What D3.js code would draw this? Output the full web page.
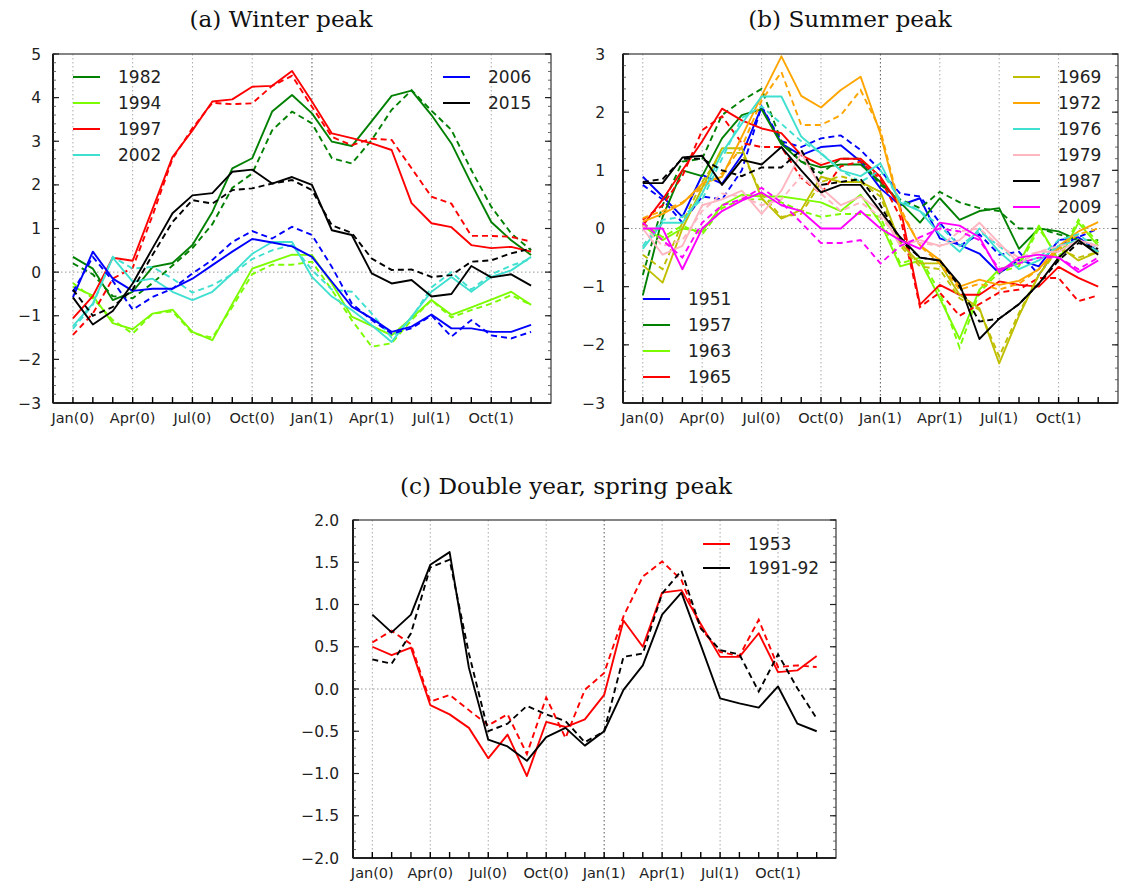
<!DOCTYPE html>
<html><head><meta charset="utf-8">
<script src="https://cdn.jsdelivr.net/npm/d3@7"></script>
<style>body{margin:0;background:#fff}</style>
</head><body>
<svg id="chart" width="1121" height="889"></svg>
<script>
// ---------- shared axis data ----------
const monthTickPos = [0, 3, 6, 9, 12, 15, 18, 21];
const monthTickLabels = ["Jan(0)", "Apr(0)", "Jul(0)", "Oct(0)", "Jan(1)", "Apr(1)", "Jul(1)", "Oct(1)"];
const months = [0,1,2,3,4,5,6,7,8,9,10,11,12,13,14,15,16,17,18,19,20,21,22,23];

// ---------- (a) Winter peak ----------
const yTicksA = [-3, -2, -1, 0, 1, 2, 3, 4, 5];
const a1982 = [0.35, 0.08, -0.64, -0.45, 0.12, 0.21, 0.62, 1.38, 2.38, 2.61, 3.68, 4.06, 3.64, 2.99, 2.89, 3.46, 4.04, 4.16, 3.6, 2.95, 2.03, 1.15, 0.73, 0.39];
const a1982d = [0.2, -0.05, -0.55, -0.6, -0.25, 0.15, 0.55, 1.1, 1.93, 2.26, 3.25, 3.68, 3.41, 2.61, 2.49, 3.03, 3.72, 4.17, 3.7, 3.26, 2.34, 1.5, 0.89, 0.5];
const a1994 = [-0.33, -0.54, -1.17, -1.31, -0.95, -0.86, -1.37, -1.56, -0.73, 0.08, 0.24, 0.4, 0.39, -0.26, -1.02, -1.23, -1.45, -1.05, -0.64, -0.98, -0.81, -0.63, -0.45, -0.75];
const a1994d = [-0.25, -0.6, -1.1, -1.41, -0.95, -0.9, -1.4, -1.5, -0.8, -0.05, 0.17, 0.17, 0.24, -0.41, -1.1, -1.71, -1.63, -1.1, -0.64, -1.04, -0.87, -0.72, -0.53, -0.75];
const a1997 = [-1.06, -0.55, 0.33, 0.26, 1.45, 2.64, 3.25, 3.91, 3.96, 4.25, 4.27, 4.61, 3.91, 3.18, 3.07, 2.95, 2.8, 1.58, 1.12, 1.03, 0.62, 0.55, 0.58, 0.47];
const a1997d = [-1.44, -0.95, -0.15, 0.1, 1.3, 2.6, 3.3, 3.88, 3.85, 3.87, 4.27, 4.5, 3.79, 3.1, 2.91, 3.06, 3.03, 2.38, 1.73, 1.57, 0.83, 0.83, 0.81, 0.7];
const a2002 = [-1.24, -0.72, 0.33, -0.22, -0.15, -0.45, -0.64, -0.45, -0.03, 0.42, 0.69, 0.69, -0.11, -0.56, -0.87, -1.22, -1.6, -1.02, -0.45, -0.11, -0.45, -0.11, 0.04, 0.35];
const a2002d = [-1.3, -0.75, 0.35, 0.08, 0.12, -0.15, -0.47, -0.3, -0.05, 0.3, 0.5, 0.62, 0.05, -0.4, -0.45, -0.95, -1.5, -1.05, -0.35, 0.0, -0.4, -0.05, 0.15, 0.3];
const a2006 = [-0.58, 0.47, -0.15, -0.43, -0.38, -0.38, -0.15, 0.16, 0.47, 0.76, 0.68, 0.59, 0.35, -0.22, -0.79, -1.06, -1.37, -1.25, -0.97, -1.29, -1.29, -1.37, -1.37, -1.21];
const a2006d = [-0.45, 0.35, -0.2, -0.86, -0.57, -0.38, -0.03, 0.28, 0.69, 0.94, 0.77, 1.04, 0.85, 0.12, -0.72, -1.1, -1.41, -1.29, -0.99, -1.48, -1.1, -1.45, -1.52, -1.37];
const a2015 = [-0.58, -1.2, -0.89, -0.26, 0.55, 1.35, 1.76, 1.81, 2.3, 2.35, 2.03, 2.18, 2.0, 0.96, 0.85, -0.03, -0.26, -0.18, -0.56, -0.5, 0.14, -0.12, -0.05, -0.31];
const a2015d = [-0.4, -1.0, -0.8, -0.4, 0.4, 1.15, 1.65, 1.57, 1.88, 1.92, 2.03, 2.11, 1.88, 1.07, 0.9, 0.31, 0.05, 0.06, -0.11, -0.07, 0.24, 0.27, 0.43, 0.54];

// ---------- (b) Summer peak ----------
const yTicksB = [-3, -2, -1, 0, 1, 2, 3];
const b1951 = [0.89, 0.55, 0.2, 0.92, 0.77, 1.26, 2.09, 1.46, 1.26, 1.4, 1.43, 1.15, 0.69, 0.4, 0.52, -0.17, -0.28, -0.43, -0.77, -0.54, -0.65, -0.2, -0.15, -0.4];
const b1951d = [0.75, 0.5, 0.1, 0.55, 0.5, 1.0, 2.1, 1.5, 1.4, 1.55, 1.6, 1.35, 1.0, 0.6, 0.55, 0.1, -0.3, -0.1, -0.45, -0.4, -0.8, -0.3, -0.15, 0.0];
const b1957 = [-1.15, 0.2, 1.0, 0.9, 1.55, 1.95, 2.05, 1.45, 1.15, 1.05, 1.1, 1.1, 0.8, 0.45, 0.1, 0.52, 0.15, 0.3, 0.35, -0.35, 0.0, -0.05, -0.2, -0.4];
const b1957d = [-0.8, 0.4, 1.15, 1.2, 1.95, 2.2, 2.4, 1.5, 1.15, 0.95, 1.2, 1.2, 0.75, 0.5, 0.35, 0.63, 0.45, 0.35, 0.3, 0.0, 0.0, -0.1, -0.2, -0.2];
const b1963 = [0.05, -0.2, 0.0, -0.05, 0.4, 0.58, 0.55, 0.55, 0.5, 0.45, 0.3, 0.58, 0.1, -0.65, -0.55, -1.2, -1.9, -1.05, -0.7, -0.6, 0.05, -0.55, 0.1, -0.3];
const b1963d = [0.1, -0.15, 0.05, -0.1, 0.35, 0.5, 0.5, 0.45, 0.3, 0.2, 0.25, 0.25, 0.2, -0.6, -0.5, -1.1, -2.05, -1.1, -0.75, -0.65, 0.0, -0.5, 0.15, -0.25];
const b1965 = [0.05, 0.5, 1.0, 1.5, 2.06, 1.86, 1.72, 1.64, 1.26, 1.09, 1.2, 1.2, 0.89, 0.37, -1.31, -0.97, -1.14, -1.14, -0.91, -0.97, -1.0, -0.66, -0.85, -1.0];
const b1965d = [0.15, 0.4, 0.9, 1.69, 1.93, 1.47, 1.4, 1.4, 0.87, 0.6, 1.07, 1.15, 0.85, 0.2, -1.35, -1.1, -1.5, -1.3, -1.1, -1.05, -0.85, -0.85, -1.25, -1.15];
const b1969 = [-0.63, -0.93, 0.0, 0.7, 1.38, 1.38, 0.52, 0.17, 0.32, 0.89, 0.8, 0.8, 0.63, -0.25, -0.6, -0.6, -1.14, -1.37, -2.32, -1.5, -0.8, -0.3, -0.55, -0.4];
const b1969d = [-0.45, -0.7, 0.1, 0.8, 1.3, 1.3, 0.6, 0.2, 0.25, 0.8, 0.9, 0.8, 0.55, -0.3, -0.65, -0.7, -1.2, -1.4, -2.2, -1.45, -0.8, -0.35, -0.5, -0.4];
const b1972 = [0.12, 0.25, 0.43, 0.77, 0.89, 1.58, 2.28, 2.96, 2.28, 2.08, 2.38, 2.61, 1.63, 0.3, -0.29, -0.54, -1.0, -0.88, -0.97, -0.9, -0.7, -0.3, -0.05, 0.11];
const b1972d = [0.18, 0.3, 0.45, 0.7, 0.95, 1.4, 2.2, 2.69, 1.78, 1.78, 1.95, 2.38, 1.69, 0.35, -0.3, -0.6, -1.05, -0.95, -1.05, -0.95, -0.7, -0.35, -0.1, 0.0];
const b1976 = [-0.35, 0.1, 0.1, 0.6, 1.3, 1.8, 2.27, 2.27, 1.58, 1.29, 1.0, 0.9, 1.12, 0.45, 0.3, -0.1, -0.4, 0.0, -0.4, -0.7, -0.55, -0.3, -0.2, -0.4];
const b1976d = [-0.3, 0.15, 0.2, 0.5, 1.2, 1.9, 2.1, 1.8, 1.5, 1.3, 1.0, 0.8, 1.0, 0.5, 0.3, 0.05, -0.3, -0.05, -0.3, -0.6, -0.5, -0.2, -0.1, -0.35];
const b1979 = [0.0, -0.45, -0.3, 0.4, 0.5, 0.65, 0.25, 0.65, 1.3, 0.7, 0.4, 0.55, 0.3, -0.3, -0.2, -0.3, -0.2, 0.1, -0.25, -0.6, -0.4, -0.4, -0.2, -0.3];
const b1979d = [0.05, -0.3, -0.2, 0.3, 0.6, 0.55, 0.4, 0.5, 0.9, 0.6, 0.3, 0.45, 0.2, -0.2, -0.25, -0.3, -0.05, 0.0, -0.3, -0.5, -0.4, -0.3, -0.25, -0.3];
const b1987 = [0.78, 0.78, 1.22, 1.25, 0.75, 1.18, 1.1, 1.4, 1.0, 0.62, 0.75, 0.75, 0.3, -0.15, -0.5, -0.55, -0.95, -1.9, -1.55, -1.3, -0.95, -0.5, -0.2, -0.45];
const b1987d = [0.8, 0.85, 1.2, 1.2, 1.0, 0.9, 1.05, 1.05, 1.35, 0.75, 0.8, 0.85, 0.4, -0.2, -0.5, -0.55, -1.0, -1.6, -1.55, -1.3, -0.95, -0.55, -0.25, -0.35];
const b2009 = [0.0, 0.0, -0.7, 0.0, 0.3, 0.48, 0.62, 0.4, 0.3, 0.0, 0.0, 0.3, 0.0, -0.2, -0.35, 0.1, 0.05, -0.15, -0.75, -0.5, -0.45, -0.5, -0.75, -0.55];
const b2009d = [0.1, -0.2, -0.5, 0.1, 0.4, 0.5, 0.7, 0.45, 0.1, -0.25, -0.25, -0.2, -0.6, -0.3, -0.15, 0.0, -0.05, -0.2, -0.7, -0.6, -0.5, -0.5, -0.7, -0.5];

// ---------- (c) Double year, spring peak ----------
const yTicksC = [-2.0, -1.5, -1.0, -0.5, 0.0, 0.5, 1.0, 1.5, 2.0];
const c1953 = [0.5, 0.4, 0.49, -0.19, -0.3, -0.46, -0.82, -0.54, -1.03, -0.39, -0.45, -0.36, -0.07, 0.81, 0.5, 1.14, 1.17, 0.77, 0.38, 0.38, 0.66, 0.2, 0.22, 0.39];
const c1953d = [0.55, 0.69, 0.53, -0.15, -0.07, -0.25, -0.43, -0.3, -0.77, -0.1, -0.58, -0.01, 0.19, 0.86, 1.33, 1.51, 1.29, 0.72, 0.44, 0.39, 0.82, 0.26, 0.28, 0.26];
const c1991 = [0.88, 0.67, 0.88, 1.47, 1.62, 0.25, -0.6, -0.68, -0.85, -0.57, -0.46, -0.67, -0.5, -0.01, 0.28, 0.88, 1.14, 0.52, -0.11, -0.17, -0.22, 0.03, -0.41, -0.5];
const c1991d = [0.35, 0.3, 0.66, 1.44, 1.53, 0.42, -0.5, -0.41, -0.2, -0.3, -0.38, -0.63, -0.5, 0.38, 0.42, 1.13, 1.4, 0.72, 0.46, 0.41, -0.03, 0.41, 0.01, -0.35];

const svg = d3.select("#chart");
const FONT = "'DejaVu Sans', sans-serif";

function drawPanel(cfg) {
  const g = svg.append("g");
  const x = d3.scaleLinear().domain([-1, 24]).range([cfg.left, cfg.right]);
  const y = d3.scaleLinear().domain(cfg.yDomain).range([cfg.bottom, cfg.top]);

  // grid
  monthTickPos.forEach(m => {
    g.append("line").attr("x1", x(m)).attr("x2", x(m)).attr("y1", cfg.top).attr("y2", cfg.bottom)
      .attr("stroke", m === 12 ? "#555" : "#aaa").attr("stroke-width", 1).attr("stroke-dasharray", "1.5,2.5");
  });
  g.append("line").attr("x1", cfg.left).attr("x2", cfg.right).attr("y1", y(0)).attr("y2", y(0))
    .attr("stroke", "#999").attr("stroke-width", 1).attr("stroke-dasharray", "1.5,2.5");

  // lines
  const line = d3.line().x((d, i) => x(months[i])).y(d => y(d));
  const clip = "clip" + cfg.id;
  svg.append("clipPath").attr("id", clip).append("rect")
    .attr("x", cfg.left).attr("y", cfg.top).attr("width", cfg.right - cfg.left).attr("height", cfg.bottom - cfg.top);
  const lg = g.append("g").attr("clip-path", `url(#${clip})`);
  cfg.series.forEach(s => {
    lg.append("path").attr("d", line(s.solid)).attr("fill", "none").attr("stroke", s.color)
      .attr("stroke-width", 1.9).attr("stroke-linejoin", "round");
    lg.append("path").attr("d", line(s.dashed)).attr("fill", "none").attr("stroke", s.color)
      .attr("stroke-width", 1.9).attr("stroke-dasharray", "6,4");
  });

  // frame
  g.append("rect").attr("x", cfg.left).attr("y", cfg.top).attr("width", cfg.right - cfg.left)
    .attr("height", cfg.bottom - cfg.top).attr("fill", "none").attr("stroke", "#444").attr("stroke-width", 1.3);
  g.append("line").attr("x1", cfg.left).attr("x2", cfg.left).attr("y1", cfg.top).attr("y2", cfg.bottom)
    .attr("stroke", "#000").attr("stroke-width", 1.6);
  g.append("line").attr("x1", cfg.left).attr("x2", cfg.right).attr("y1", cfg.bottom).attr("y2", cfg.bottom)
    .attr("stroke", "#000").attr("stroke-width", 1.6);

  // x ticks (every month, inward)
  months.forEach(m => {
    g.append("line").attr("x1", x(m)).attr("x2", x(m)).attr("y1", cfg.bottom).attr("y2", cfg.bottom - 6)
      .attr("stroke", "#000").attr("stroke-width", 1.4);
  });
  monthTickPos.forEach((m, i) => {
    g.append("text").attr("x", x(m)).attr("y", cfg.bottom + 20).attr("text-anchor", "middle")
      .attr("font-family", FONT).attr("font-size", 14.5).attr("fill", "#222").text(monthTickLabels[i]);
  });

  // y ticks
  const minor = d3.range(Math.round((cfg.yDomain[1] - cfg.yDomain[0]) / cfg.minorStep) + 1)
    .map(k => cfg.yDomain[0] + k * cfg.minorStep);
  minor.forEach(v => {
    [[cfg.left, 3], [cfg.right, -3]].forEach(([px, len]) => {
      g.append("line").attr("x1", px).attr("x2", px + len).attr("y1", y(v)).attr("y2", y(v))
        .attr("stroke", "#444").attr("stroke-width", 0.8);
    });
  });
  cfg.yTicks.forEach(v => {
    [[cfg.left, 6], [cfg.right, -6]].forEach(([px, len]) => {
      g.append("line").attr("x1", px).attr("x2", px + len).attr("y1", y(v)).attr("y2", y(v))
        .attr("stroke", "#222").attr("stroke-width", 1.2);
    });
    g.append("text").attr("x", cfg.left - cfg.labelGap).attr("y", y(v)).attr("dy", "0.36em")
      .attr("text-anchor", "end").attr("font-family", FONT).attr("font-size", 15.5).attr("fill", "#222")
      .text(cfg.yFmt(v));
  });

  // title
  svg.append("text").attr("x", cfg.titleX).attr("y", cfg.titleY).attr("text-anchor", "middle")
    .attr("font-family", "'DejaVu Serif', serif").attr("font-size", 23.2).attr("fill", "#111").text(cfg.title);

  // legends
  cfg.legends.forEach(L => {
    L.items.forEach((name, i) => {
      const s = cfg.series.find(q => q.name === name);
      const yy = L.y + i * L.dy;
      g.append("line").attr("x1", L.x).attr("x2", L.x + 27).attr("y1", yy).attr("y2", yy)
        .attr("stroke", s.color).attr("stroke-width", 2);
      g.append("text").attr("x", L.x + 45).attr("y", yy).attr("dy", "0.36em")
        .attr("font-family", FONT).attr("font-size", 17).attr("fill", "#222").text(name);
    });
  });
}

drawPanel({
  id: "a", left: 53, right: 551, top: 54, bottom: 403, yDomain: [-3, 5], yTicks: yTicksA, minorStep: 0.2,
  yFmt: d => d3.format("d")(d).replace("-", "\u2212"), labelGap: 12,
  title: "(a) Winter peak", titleX: 281, titleY: 27,
  series: [
    {name: "1982", color: "#008000", solid: a1982, dashed: a1982d},
    {name: "1994", color: "#7cfc00", solid: a1994, dashed: a1994d},
    {name: "1997", color: "#ff0000", solid: a1997, dashed: a1997d},
    {name: "2002", color: "#40e0d0", solid: a2002, dashed: a2002d},
    {name: "2006", color: "#0000ff", solid: a2006, dashed: a2006d},
    {name: "2015", color: "#000000", solid: a2015, dashed: a2015d}
  ],
  legends: [
    {x: 73, y: 77, dy: 26, items: ["1982", "1994", "1997", "2002"]},
    {x: 443, y: 77, dy: 26, items: ["2006", "2015"]}
  ]
});

drawPanel({
  id: "b", left: 623, right: 1118, top: 54, bottom: 403, yDomain: [-3, 3], yTicks: yTicksB, minorStep: 0.2,
  yFmt: d => d3.format("d")(d).replace("-", "\u2212"), labelGap: 18,
  title: "(b) Summer peak", titleX: 850, titleY: 27,
  series: [
    {name: "1951", color: "#0000ff", solid: b1951, dashed: b1951d},
    {name: "1957", color: "#008000", solid: b1957, dashed: b1957d},
    {name: "1963", color: "#7cfc00", solid: b1963, dashed: b1963d},
    {name: "1965", color: "#ff0000", solid: b1965, dashed: b1965d},
    {name: "1969", color: "#bfbf00", solid: b1969, dashed: b1969d},
    {name: "1972", color: "#ffa500", solid: b1972, dashed: b1972d},
    {name: "1976", color: "#40e0d0", solid: b1976, dashed: b1976d},
    {name: "1979", color: "#ffb6c1", solid: b1979, dashed: b1979d},
    {name: "1987", color: "#000000", solid: b1987, dashed: b1987d},
    {name: "2009", color: "#ff00ff", solid: b2009, dashed: b2009d}
  ],
  legends: [
    {x: 1013, y: 77, dy: 26, items: ["1969", "1972", "1976", "1979", "1987", "2009"]},
    {x: 643, y: 299, dy: 26, items: ["1951", "1957", "1963", "1965"]}
  ]
});

drawPanel({
  id: "c", left: 353, right: 836, top: 520, bottom: 858, yDomain: [-2, 2], yTicks: yTicksC, minorStep: 0.1,
  yFmt: d => d3.format(".1f")(d).replace("-", "\u2212"), labelGap: 14,
  title: "(c) Double year, spring peak", titleX: 566, titleY: 494,
  series: [
    {name: "1953", color: "#ff0000", solid: c1953, dashed: c1953d},
    {name: "1991-92", color: "#000000", solid: c1991, dashed: c1991d}
  ],
  legends: [
    {x: 703, y: 544, dy: 24, items: ["1953", "1991-92"]}
  ]
});
</script>
</body></html>
